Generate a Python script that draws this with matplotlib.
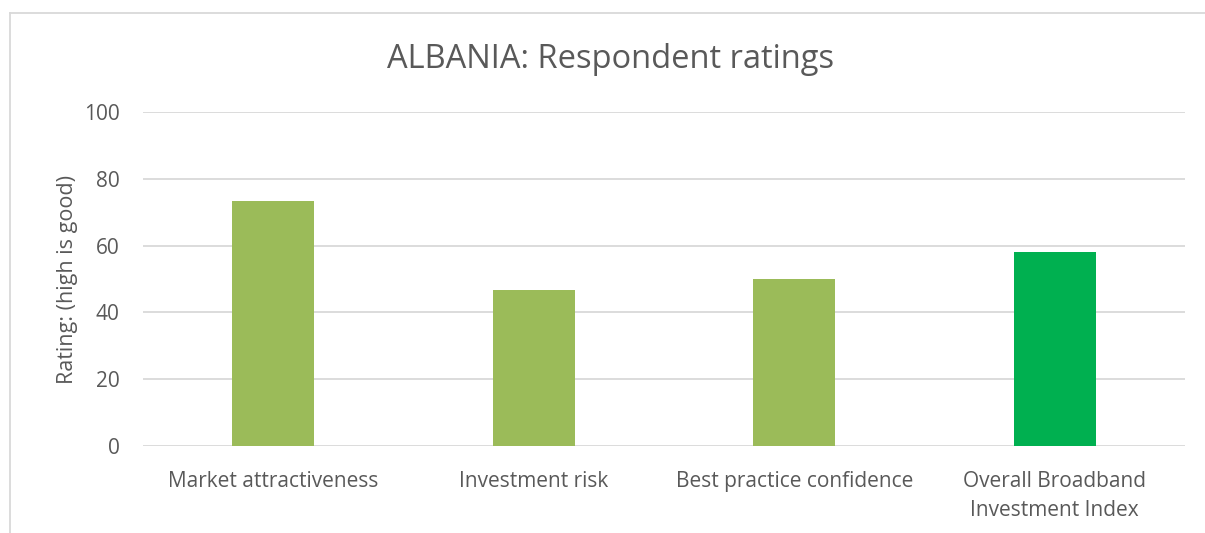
import matplotlib.pyplot as plt
from matplotlib.lines import Line2D

# données
categories = ["Market attractiveness", "Investment risk",
              "Best practice confidence", "Overall Broadband\nInvestment Index"]
ratings = [73.3, 46.7, 50.0, 58.0]
bar_colors = ["#9BBB59", "#9BBB59", "#9BBB59", "#00B050"]
y_ticks = [0, 20, 40, 60, 80, 100]

plt.rcParams['font.family'] = ['Open Sans', 'DejaVu Sans']
W, H = 1205, 533
fig = plt.figure(figsize=(W / 100, H / 100), dpi=100)
ax = fig.add_axes([143 / W, 1 - 446 / H, (1185 - 143) / W, (446 - 112) / H])

x = range(len(categories))
ax.bar(x, ratings, width=0.315, color=bar_colors, zorder=3)
ax.set_xlim(-0.5, len(categories) - 0.5)
ax.set_ylim(0, 100)
ax.set_yticks(y_ticks)
ax.set_xticks(list(x))
ax.set_xticklabels(categories, fontsize=15, color="#595959", linespacing=1.5)
ax.tick_params(axis='y', labelsize=15, labelcolor="#595959", length=0, pad=17)
ax.tick_params(axis='x', length=0, pad=18)
ax.grid(axis='y', color="#D9D9D9", linewidth=1.3, zorder=0)
for s in ax.spines.values():
    s.set_visible(False)

ax.set_ylabel("Rating: (high is good)", fontsize=15.5, color="#595959", labelpad=4)
fig.text(611 / W, 1 - 60 / H, "ALBANIA: Respondent ratings", fontsize=23.5,
         color="#595959", ha='center', va='center')

# cadre du graphique (haut et gauche seulement)
fig.add_artist(Line2D([10 / W, 1], [1 - 13 / H, 1 - 13 / H], color="#D9D9D9", lw=1.3))
fig.add_artist(Line2D([10 / W, 10 / W], [0, 1 - 13 / H], color="#D9D9D9", lw=1.3))

fig.savefig("out.png", dpi=100)
